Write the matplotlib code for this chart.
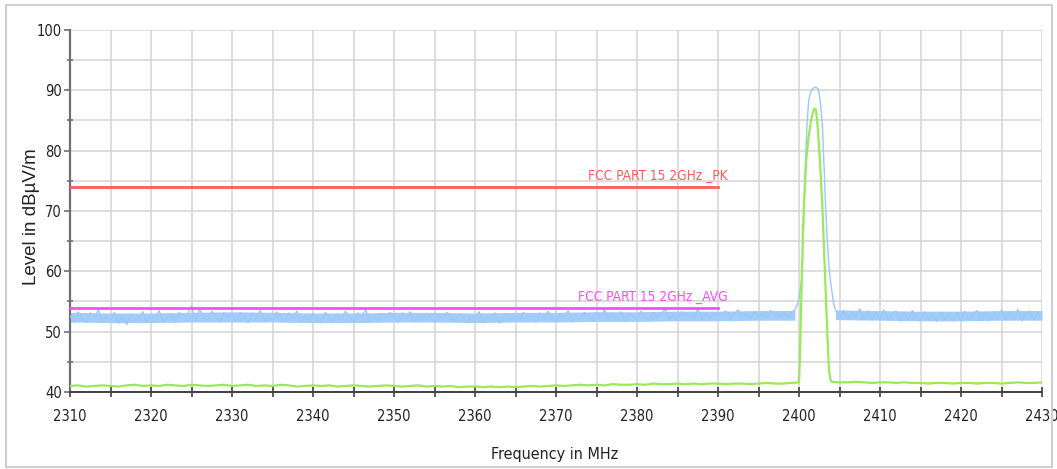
import numpy as np
import matplotlib
matplotlib.use('Agg')
import matplotlib.pyplot as plt
import matplotlib.font_manager as fm
from matplotlib.patches import Rectangle
from matplotlib.ticker import MultipleLocator

# --- data (dBuV/m vs MHz) ---
# blue trace (peak detector), 0.5 MHz steps below the carrier
blue_lo_freq = np.arange(2310, 2400, 0.5)
blue_lo = [
    52.6, 51.6, 53.3, 52.2, 51.5, 53.1, 52.4, 53.6, 51.6, 52.5,
    51.8, 53.2, 51.4, 52.3, 51.2, 52.9, 51.7, 52.2, 53.3, 51.6,
    52.6, 51.9, 53.5, 51.7, 52.4, 53.0, 51.5, 53.2, 52.3, 52.8,
    54.3, 51.7, 53.7, 52.4, 51.8, 53.4, 52.6, 51.6, 53.1, 52.3,
    52.9, 51.7, 53.2, 52.4, 51.5, 53.0, 52.2, 53.5, 51.7, 52.5,
    51.9, 53.3, 52.4, 51.6, 53.1, 52.3, 53.4, 51.7, 52.6, 51.8,
    53.0, 52.2, 51.5, 53.2, 52.4, 51.7, 52.9, 52.1, 53.4, 52.3,
    51.6, 53.1, 52.4, 53.6, 51.8, 52.6, 51.7, 53.0, 52.2, 53.2,
    52.4, 51.5, 53.1, 52.3, 53.3, 51.7, 52.6, 51.9, 53.0, 52.3,
    51.6, 52.9, 52.2, 53.2, 52.5, 51.7, 53.0, 52.3, 51.5, 52.6,
    52.2, 53.3, 51.7, 52.5, 51.8, 53.1, 51.4, 52.4, 53.0, 51.9,
    52.7, 51.7, 53.2, 52.3, 52.6, 51.6, 53.1, 52.2, 53.4, 52.4,
    51.8, 53.0, 52.3, 53.5, 51.7, 52.6, 52.0, 53.2, 52.5, 51.9,
    53.1, 52.4, 53.6, 51.9, 52.7, 52.1, 53.3, 51.8, 53.0, 52.5,
    52.0, 53.4, 52.6, 51.8, 53.2, 52.4, 53.0, 53.7, 52.1, 52.7,
    51.9, 53.3, 52.5, 53.1, 52.0, 53.8, 52.4, 53.0, 52.1, 53.2,
    52.6, 53.1, 53.4, 52.3, 53.0, 53.6, 52.4, 53.1, 52.2, 53.3,
    52.5, 53.2, 52.3, 53.5, 52.8, 52.4, 53.3, 52.5, 53.2, 53.6,
]
blue_pk_freq = [2400.0, 2400.2, 2400.4, 2400.6, 2400.8, 2401.0, 2401.2, 2401.5, 2401.8, 2402.1,
                2402.4, 2402.6, 2402.9, 2403.1, 2403.3, 2403.5, 2403.7, 2403.9, 2404.1, 2404.3]
blue_pk = [55.3, 57.5, 59.7, 69.0, 78.5, 84.5, 88.4, 89.9, 90.4, 90.5,
           90.2, 88.5, 84.0, 77.0, 70.2, 65.0, 60.8, 58.2, 56.4, 54.5]
blue_hi_freq = np.arange(2404.5, 2430.01, 0.5)
blue_hi = [
    53.7, 52.2, 53.5, 52.0, 53.3, 52.5, 53.8, 52.1, 53.4, 51.9,
    53.2, 52.1, 53.6, 51.9, 53.1, 53.4, 51.8, 53.2, 52.0, 53.5,
    52.1, 51.8, 53.3, 52.0, 53.1, 51.7, 53.2, 51.9, 53.0, 51.8,
    53.1, 52.0, 53.4, 51.9, 53.0, 53.5, 52.0, 53.1, 51.8, 53.3,
    52.1, 53.6, 51.9, 53.2, 52.0, 53.7, 51.8, 53.1, 53.4, 52.0,
    53.3, 52.1,
]
# solid core of the blue noise band (upper / lower edge)
band1_freq = [2310, 2315, 2320, 2325, 2330, 2335, 2340, 2345, 2350, 2355,
              2360, 2365, 2370, 2375, 2380, 2385, 2390, 2395, 2399.5]
band1_top = [53.2, 53.1, 53.1, 53.2, 53.3, 53.2, 53.1, 53.1, 53.2, 53.2,
             53.1, 53.2, 53.2, 53.3, 53.3, 53.4, 53.4, 53.5, 53.5]
band1_bot = [51.6, 51.5, 51.5, 51.6, 51.6, 51.6, 51.5, 51.5, 51.6, 51.6,
             51.5, 51.6, 51.6, 51.7, 51.7, 51.8, 51.8, 51.9, 51.9]
band2_freq = [2404.5, 2410, 2415, 2420, 2425, 2430]
band2_top = [53.6, 53.5, 53.4, 53.4, 53.5, 53.5]
band2_bot = [52.0, 51.9, 51.8, 51.8, 51.9, 51.9]

# green trace (average detector), 1 MHz steps below/above the carrier
green_lo_freq = np.arange(2310, 2400, 1.0)
green_lo = [
    41.0, 41.1, 40.9, 41.0, 41.1, 41.0, 40.9, 41.1, 41.2, 41.0,
    41.1, 41.0, 41.2, 41.1, 41.0, 41.2, 41.1, 41.0, 41.1, 41.2,
    41.0, 41.1, 41.2, 41.0, 41.1, 41.0, 41.2, 41.1, 40.9, 41.0,
    41.1, 41.0, 41.1, 40.9, 41.0, 41.1, 41.0, 40.9, 41.0, 41.1,
    41.0, 40.9, 41.0, 41.1, 40.9, 41.0, 40.9, 41.0, 40.8, 40.9,
    40.9, 40.8, 40.9, 40.8, 40.9, 40.8, 40.9, 41.0, 40.9, 41.0,
    41.1, 41.0, 41.1, 41.2, 41.1, 41.2, 41.1, 41.3, 41.2, 41.2,
    41.3, 41.2, 41.4, 41.3, 41.3, 41.4, 41.3, 41.4, 41.3, 41.4,
    41.4, 41.3, 41.4, 41.4, 41.3, 41.4, 41.5, 41.4, 41.4, 41.5,
]
green_pk_freq = [2400.0, 2400.1, 2400.3, 2400.5, 2400.7, 2400.9, 2401.2, 2401.5, 2401.7, 2401.9,
                 2402.1, 2402.3, 2402.5, 2402.7, 2402.9, 2403.1, 2403.3, 2403.5, 2403.7, 2403.9]
green_pk = [41.6, 45.3, 56.0, 67.4, 73.5, 78.5, 82.5, 85.1, 86.3, 87.0,
            86.8, 84.0, 80.1, 75.5, 70.2, 63.5, 56.4, 49.5, 43.6, 42.0]
green_hi_freq = np.arange(2404, 2431, 1.0)
green_hi = [41.7, 41.6, 41.6, 41.7, 41.6, 41.5, 41.6, 41.6, 41.5, 41.6,
            41.5, 41.5, 41.4, 41.5, 41.5, 41.4, 41.5, 41.5, 41.4, 41.5,
            41.5, 41.4, 41.5, 41.6, 41.5, 41.5, 41.6]

# limit lines
limit_freq = [2310, 2390]
limit_pk = 74
limit_avg = 54
label_pk = 'FCC PART 15 2GHz _PK'
label_avg = 'FCC PART 15 2GHz _AVG'

blue_f = np.concatenate([blue_lo_freq, blue_pk_freq, blue_hi_freq])
blue_v = np.concatenate([blue_lo, blue_pk, blue_hi])
green_f = np.concatenate([green_lo_freq, green_pk_freq, green_hi_freq])
green_v = np.concatenate([green_lo, green_pk, green_hi])


# look for a narrow/condensed sans face, the reference uses one
def pick_narrow():
    prefs = ['liberationsansnarrow-regular', 'dejavusanscondensed.', 'robotocondensed-regular',
             'opensans_condensed-regular', 'opensanscondensed']
    files = [f.fname for f in fm.fontManager.ttflist]
    for p in prefs:
        for fn in files:
            if p in fn.lower().replace(' ', ''):
                return fn
    return None


narrow_file = pick_narrow()
if narrow_file:
    def nfont(size):
        return fm.FontProperties(fname=narrow_file, size=size)
    TICK, LAB, XLAB = 10.5, 9.8, 11.5
else:
    def nfont(size):
        return fm.FontProperties(family=['Liberation Sans', 'DejaVu Sans'], size=size)
    TICK, LAB, XLAB = 9.5, 9, 10.5

fig = plt.figure(figsize=(10.57, 4.69), dpi=100)
ax = fig.add_axes([70/1057, 1-392/469, 972/1057, 362/469])

ax.fill_between(band1_freq, band1_bot, band1_top, color='#a3cdf8', lw=0, zorder=2)
ax.fill_between(band2_freq, band2_bot, band2_top, color='#a3cdf8', lw=0, zorder=2)
ax.plot(blue_f, blue_v, color='#99c9fa', lw=1.0, zorder=3)
ax.plot(green_f, green_v, color='#9be85a', lw=1.6, zorder=4)
ax.plot(limit_freq, [limit_pk]*2, color='#ff5b5b', lw=2.0, zorder=5)
ax.plot(limit_freq, [limit_avg]*2, color='#ff4cf5', lw=2.0, zorder=5)
ax.text(2391.2, 74.6, label_pk, color='#ff5b5b', ha='right', va='bottom', fontproperties=nfont(LAB), zorder=6)
ax.text(2391.2, 54.6, label_avg, color='#ff4cf5', ha='right', va='bottom', fontproperties=nfont(LAB), zorder=6)

ax.set_xlim(2310, 2430)
ax.set_ylim(40, 100)
ax.xaxis.set_major_locator(MultipleLocator(10))
ax.xaxis.set_minor_locator(MultipleLocator(5))
ax.yaxis.set_major_locator(MultipleLocator(10))
ax.yaxis.set_minor_locator(MultipleLocator(5))
ax.grid(True, which='both', color='#d4d4d4', lw=1.1, zorder=0)
ax.set_axisbelow(True)
for s in ['top', 'right']:
    ax.spines[s].set_visible(False)
ax.spines['left'].set_color('#707070')
ax.spines['left'].set_linewidth(1.6)
ax.spines['bottom'].set_color('#404040')
ax.spines['bottom'].set_linewidth(1.4)
ax.tick_params(axis='x', which='both', direction='inout', length=7, width=1.2, color='#404040')
ax.tick_params(axis='x', which='major', pad=9)
ax.tick_params(axis='y', which='major', direction='out', length=4, width=1.2, color='#707070', pad=2)
ax.tick_params(axis='y', which='minor', direction='inout', length=4, width=1.2, color='#707070')
for lab in ax.get_xticklabels() + ax.get_yticklabels():
    lab.set_fontproperties(nfont(TICK))
    lab.set_color('#222222')

fig.text(555/1057, 1-454/469, 'Frequency in MHz', ha='center', va='center', fontproperties=nfont(XLAB), color='#222222')
fig.text(32/1057, 1-217/469, 'Level in dBµV/m', ha='center', va='center', rotation=90, fontsize=13.5,
         family=['Liberation Sans', 'DejaVu Sans'], color='#222222')

fig.patches.append(Rectangle((6/1057, 2/469), 1046/1057, 462/469, transform=fig.transFigure,
                             fill=False, edgecolor='#cfcfcf', lw=1.5))

fig.savefig('out.png', dpi=100)
